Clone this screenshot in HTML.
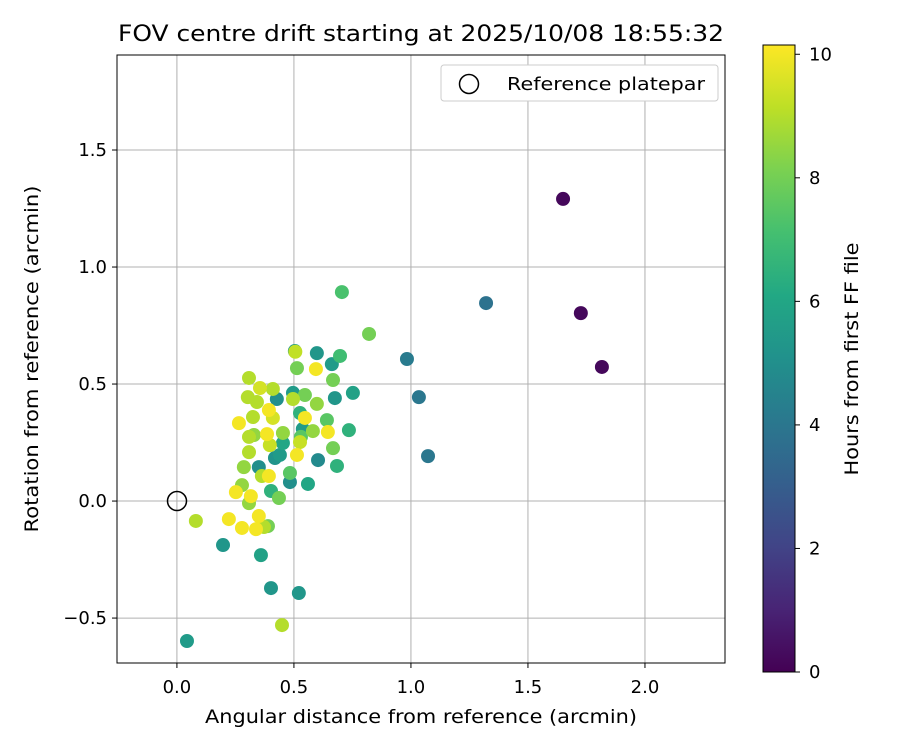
<!DOCTYPE html>
<html><head><meta charset="utf-8"><style>
body{margin:0;background:#fff;}
svg text{font-family:"DejaVu Sans","Liberation Sans",sans-serif;fill:#000;}
</style></head><body>
<svg id="chart" width="900" height="750" xmlns="http://www.w3.org/2000/svg">
<defs>
<linearGradient id="vir" x1="0" y1="1" x2="0" y2="0">
<stop offset="0" stop-color="#440154"/><stop offset="0.1" stop-color="#482475"/><stop offset="0.2" stop-color="#414487"/><stop offset="0.3" stop-color="#355f8d"/><stop offset="0.4" stop-color="#2a788e"/><stop offset="0.5" stop-color="#21918c"/><stop offset="0.6" stop-color="#22a884"/><stop offset="0.7" stop-color="#44bf70"/><stop offset="0.8" stop-color="#7ad151"/><stop offset="0.9" stop-color="#bddf26"/><stop offset="1" stop-color="#fde725"/>
</linearGradient>
<clipPath id="clip"><rect x="117" y="55" width="608" height="608"/></clipPath>
</defs>
<rect width="900" height="750" fill="#fff"/>
<text x="421" y="41" font-size="22" text-anchor="middle" textLength="606" lengthAdjust="spacingAndGlyphs">FOV centre drift starting at 2025/10/08 18:55:32</text>
<g id="grid"></g>
<g id="points" clip-path="url(#clip)"></g>
<circle cx="177" cy="501" r="9.5" fill="none" stroke="#000" stroke-width="1.5"/>
<rect x="117" y="55" width="608" height="608" fill="none" stroke="#000" stroke-width="1"/>
<g id="xticks"></g>
<g id="yticks"></g>
<text x="421" y="723" font-size="19" text-anchor="middle" textLength="432" lengthAdjust="spacingAndGlyphs">Angular distance from reference (arcmin)</text>
<text transform="translate(38,359) rotate(-90)" font-size="19" text-anchor="middle" textLength="347" lengthAdjust="spacingAndGlyphs">Rotation from reference (arcmin)</text>
<g>
<rect x="441" y="65" width="277" height="36" rx="3" fill="#fff" stroke="#ccc" stroke-width="1"/>
<circle cx="469" cy="84" r="9.5" fill="none" stroke="#000" stroke-width="1.5"/>
<text x="507" y="90" font-size="18" textLength="198" lengthAdjust="spacingAndGlyphs">Reference platepar</text>
</g>
<rect x="763" y="45" width="32" height="627" fill="url(#vir)" stroke="#000" stroke-width="1"/>
<g id="cticks"></g>
<text transform="translate(858,359) rotate(-90)" font-size="19" text-anchor="middle" textLength="233" lengthAdjust="spacingAndGlyphs">Hours from first FF file</text>
</svg>
<script>
const xVals=[1.650,1.726,1.816,1.321,0.983,1.034,1.073,0.705,0.821,0.504,0.506,0.598,0.697,0.662,0.513,0.594,0.667,0.675,0.752,0.735,0.308,0.355,0.410,0.303,0.342,0.427,0.496,0.496,0.547,0.598,0.393,0.410,0.325,0.526,0.547,0.641,0.265,0.308,0.329,0.385,0.453,0.453,0.538,0.530,0.526,0.581,0.645,0.397,0.419,0.440,0.513,0.308,0.667,0.603,0.684,0.286,0.350,0.363,0.393,0.483,0.483,0.560,0.278,0.252,0.316,0.402,0.436,0.308,0.081,0.222,0.278,0.338,0.350,0.389,0.372,0.197,0.359,0.402,0.521,0.449,0.043];
const yVals=[1.291,0.803,0.573,0.846,0.607,0.444,0.192,0.893,0.714,0.641,0.638,0.632,0.620,0.585,0.568,0.564,0.517,0.440,0.462,0.303,0.526,0.483,0.479,0.444,0.423,0.436,0.462,0.436,0.453,0.415,0.389,0.355,0.359,0.376,0.355,0.346,0.333,0.274,0.282,0.286,0.291,0.248,0.308,0.274,0.252,0.299,0.295,0.239,0.184,0.197,0.197,0.209,0.226,0.175,0.150,0.145,0.145,0.107,0.107,0.120,0.081,0.073,0.068,0.038,0.021,0.043,0.013,-0.009,-0.085,-0.077,-0.115,-0.120,-0.064,-0.107,-0.111,-0.188,-0.231,-0.372,-0.393,-0.530,-0.598];
const hours=[0.2,0.2,0.2,3.8,4.2,4.0,4.0,7.2,8.0,5.5,9.2,5.3,7.0,5.5,8.0,10,8.0,5.3,5.8,6.5,9,9.5,9,9,9,5,5.5,9,8,8.5,10,9.5,9,6.5,10,7.5,10,9,8.5,10,8.5,6,5.5,7.5,9.3,8.5,10,9.3,5.2,5.5,10,9,8,4.8,6.5,8.5,5,9,10,7.5,5,6,8.5,10,10,6.5,8,8.5,9,10,10,10,10,8,9,5.3,5.8,5.3,5.3,9,5.5];
const xTicks=[0.0,0.5,1.0,1.5,2.0];
const xTickLabels=["0.0","0.5","1.0","1.5","2.0"];
const yTicks=[-0.5,0.0,0.5,1.0,1.5];
const yTickLabels=["\u22120.5","0.0","0.5","1.0","1.5"];
const cTicks=[0,2,4,6,8,10];
const cTickLabels=["0","2","4","6","8","10"];

const NS="http://www.w3.org/2000/svg";
const X0=117,X1=725,Y0=55,Y1=663,xmin=-0.256,xmax=2.342,ymin=-0.692,ymax=1.906;
const sx=v=>X0+(v-xmin)/(xmax-xmin)*(X1-X0);
const sy=v=>Y1-(v-ymin)/(ymax-ymin)*(Y1-Y0);
const CB0=672,CB1=45,cmax=10.15;
const sc=v=>CB0-(v/cmax)*(CB0-CB1);
const stops=["#440154","#482475","#414487","#355f8d","#2a788e","#21918c","#22a884","#44bf70","#7ad151","#bddf26","#fde725"].map(h=>[1,3,5].map(i=>parseInt(h.substr(i,2),16)));
function viridis(t){t=Math.max(0,Math.min(1,t));const f=t*10,i=Math.min(9,Math.floor(f)),r=f-i;const a=stops[i],b=stops[i+1];return "rgb("+a.map((c,k)=>Math.round(c+(b[k]-c)*r)).join(",")+")";}
function mk(tag,attrs,parent){const e=document.createElementNS(NS,tag);for(const k in attrs)e.setAttribute(k,attrs[k]);parent.appendChild(e);return e;}

const grid=document.getElementById('grid'),xt=document.getElementById('xticks'),yt=document.getElementById('yticks'),ct=document.getElementById('cticks'),pts=document.getElementById('points');
xTicks.forEach((v,i)=>{const x=sx(v);
 const g=mk('line',{x1:x,x2:x,y1:Y0,y2:Y1,stroke:'#b0b0b0','stroke-width':1},grid);
 
 
 const t=mk('line',{x1:x,x2:x,y1:Y1,y2:Y1+5,stroke:'#000'},xt);
 
 
 const l=mk('text',{x:x,y:Y1+30,'font-size':18,'text-anchor':'middle'},xt);l.textContent=xTickLabels[i];
 
 
});
yTicks.forEach((v,i)=>{const y=sy(v);
 const g=mk('line',{x1:X0,x2:X1,y1:y,y2:y,stroke:'#b0b0b0','stroke-width':1},grid);
 
 
 const t=mk('line',{x1:X0-5,x2:X0,y1:y,y2:y,stroke:'#000'},yt);
 
 
 const l=mk('text',{x:X0-10,y:y+6,'font-size':18,'text-anchor':'end'},yt);l.textContent=yTickLabels[i];
 
 
});
cTicks.forEach((v,i)=>{const y=sc(v);
 const t=mk('line',{x1:795,x2:800,y1:y,y2:y,stroke:'#000'},ct);
 
 
 const l=mk('text',{x:809,y:y+6,'font-size':18},ct);l.textContent=cTickLabels[i];
 
 
});
const order=hours.map((h,i)=>i).sort((a,b)=>hours[a]-hours[b]);
order.forEach(i=>{
 const c=mk('circle',{cx:sx(xVals[i]),cy:sy(yVals[i]),r:7,fill:viridis(hours[i]/cmax)},pts);
 
 
});
</script>
</body></html>
